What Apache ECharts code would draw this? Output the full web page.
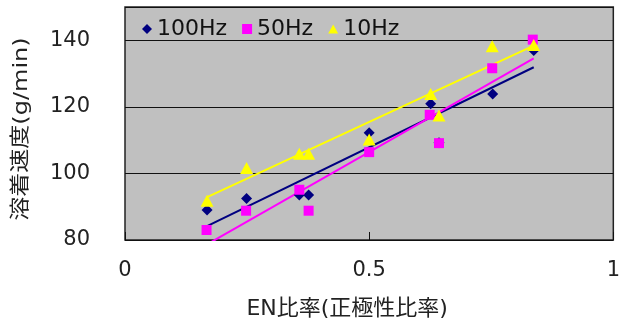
<!DOCTYPE html>
<html><head><meta charset="utf-8">
<script src="https://cdn.jsdelivr.net/npm/echarts@6/dist/echarts.min.js"></script>
<style>html,body{margin:0;padding:0;background:#fff}#c{width:623px;height:325px}</style>
</head><body><div id="c"></div>
<script>
var seriesNames = ['100Hz', '50Hz', '10Hz'];
var xTicks = [0, 0.5, 1];
var yTicks = [80, 100, 120, 140];
var xTitle = 'EN比率(正極性比率)';
var yTitle = '溶着速度(g/min)';
var data100 = [[0.168, 89.0], [0.249, 92.5], [0.357, 93.5], [0.376, 93.5], [0.5, 112.2], [0.626, 120.9], [0.643, 109.2], [0.753, 123.9], [0.837, 136.9]];
var data50 = [[0.167, 83.0], [0.248, 88.8], [0.357, 95.1], [0.376, 88.8], [0.5, 106.4], [0.624, 117.6], [0.643, 109.1], [0.752, 131.6], [0.835, 140.2]];
var data10 = [[0.168, 91.8], [0.249, 101.6], [0.357, 105.9], [0.376, 105.9], [0.5, 110.2], [0.626, 123.9], [0.643, 117.4], [0.752, 138.2], [0.837, 138.6]];
var trend100 = [[0.167, 84.1], [0.837, 131.9]];
var trend50 = [[0.167, 78.6], [0.837, 134.6]];
var trend10 = [[0.167, 92.8], [0.837, 138.4]];
var colors = ['#000080', '#ff00ff', '#ffff00'];

var font = '"DejaVu Sans", "Noto Sans CJK JP", sans-serif';
var chart = echarts.init(document.getElementById('c'), null, {renderer: 'canvas'});
var diamond = 'path://M0,-1 L1,0 L0,1 L-1,0 Z';
var triangle = 'path://M0,-1 L1,0.8 L-1,0.8 Z';
chart.setOption({
  animation: false,
  textStyle: {fontFamily: font},
  grid: {left: 125, right: 8, top: 7, bottom: 84, show: true, backgroundColor: '#c0c0c0', borderColor: '#222', borderWidth: 1.5},
  legend: {
    data: seriesNames,
    left: 137, top: 13,
    itemWidth: 10, itemHeight: 10, itemGap: 15,
    textStyle: {fontSize: 22, color: '#111', fontFamily: font},
    backgroundColor: 'transparent'
  },
  graphic: [{
    type: 'text', x: 22, y: 129, rotation: Math.PI / 2, scaleX: 1.2, silent: true,
    style: {text: yTitle, font: '20px ' + font, fill: '#222', align: 'center', verticalAlign: 'middle'}
  }],
  xAxis: {
    type: 'value', min: xTicks[0], max: xTicks[xTicks.length - 1], interval: 0.5,
    name: xTitle, nameLocation: 'middle', nameGap: 58,
    nameTextStyle: {fontSize: 22, color: '#222', fontFamily: font, padding: [0, 44, 0, 0]},
    axisLine: {show: false},
    axisTick: {show: true, inside: true, length: 8, lineStyle: {color: '#111', width: 1}},
    splitLine: {show: false},
    axisLabel: {fontSize: 21, color: '#222', margin: 20, formatter: function (v) { return String(v); }}
  },
  yAxis: {
    type: 'value', min: yTicks[0], max: 150, interval: 20,
    axisLine: {show: false},
    axisTick: {show: false},
    splitLine: {show: true, lineStyle: {color: '#111', width: 1}},
    axisLabel: {fontSize: 21, color: '#222', margin: 35, showMaxLabel: false}
  },
  series: [
    {name: 'trend100', type: 'line', data: trend100, symbol: 'none', lineStyle: {color: colors[0], width: 2}, itemStyle: {color: colors[0]}, z: 2, silent: true},
    {name: 'trend50', type: 'line', data: trend50, symbol: 'none', lineStyle: {color: colors[1], width: 2}, itemStyle: {color: colors[1]}, z: 2, silent: true},
    {name: 'trend10', type: 'line', data: trend10, symbol: 'none', lineStyle: {color: colors[2], width: 2}, itemStyle: {color: colors[2]}, z: 2, silent: true},
    {name: seriesNames[0], type: 'scatter', data: data100, symbol: diamond, symbolSize: 11, itemStyle: {color: colors[0], opacity: 1}, z: 3},
    {name: seriesNames[1], type: 'scatter', data: data50, symbol: 'rect', symbolSize: 10, itemStyle: {color: colors[1], opacity: 1}, z: 3},
    {name: seriesNames[2], type: 'scatter', data: data10, symbol: triangle, symbolSize: [13, 12], itemStyle: {color: colors[2], opacity: 1}, z: 4}
  ]
});
</script></body></html>
